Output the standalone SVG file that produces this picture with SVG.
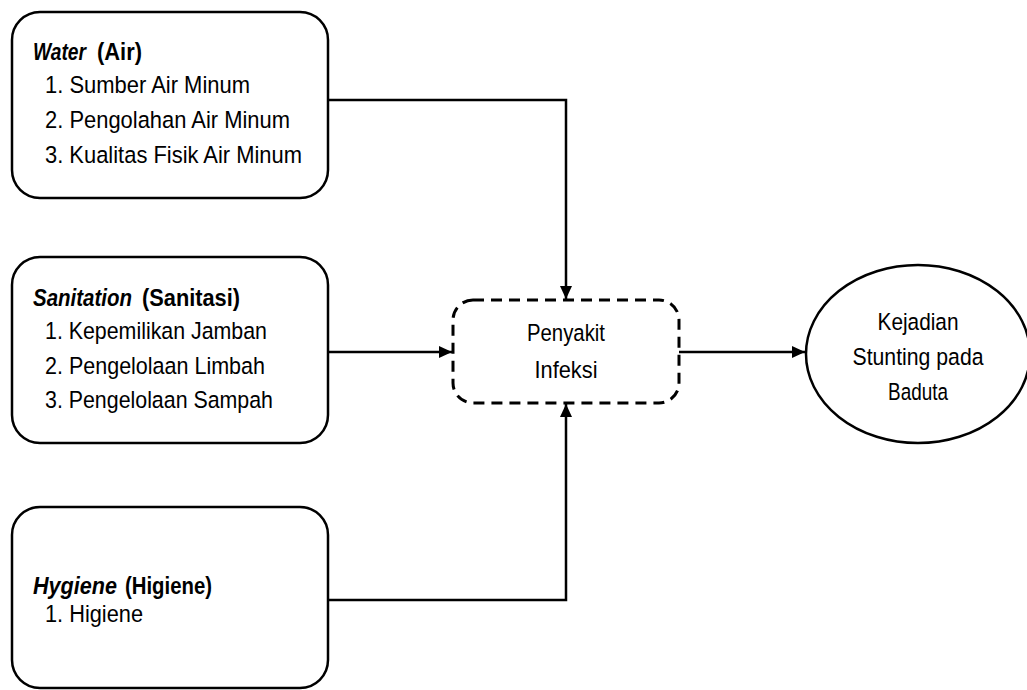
<svg xmlns="http://www.w3.org/2000/svg" width="1027" height="690" viewBox="0 0 1027 690">
<style>
.box{fill:#fff;stroke:#000;stroke-width:2.5}
.dash{fill:#fff;stroke:#000;stroke-width:3;stroke-dasharray:11 7}
.t{font-family:"Liberation Sans",Arial,sans-serif;font-size:24.5px;fill:#000}
.b{font-weight:bold}
.i{font-style:italic}
.c{text-anchor:middle}
.ln{fill:none;stroke:#000;stroke-width:2.5}
</style>
<defs>
<marker id="ah" viewBox="0 0 13 12" refX="13" refY="6" markerWidth="13" markerHeight="12" markerUnits="userSpaceOnUse" orient="auto">
<path d="M0,0 L13,6 L0,12 Z" fill="#000"/>
</marker>
</defs>
<rect width="1027" height="690" fill="#fff"/>
<g id="connectors">
<path class="ln" d="M328,100 H566 V299" marker-end="url(#ah)"/>
<path class="ln" d="M328,352 H452" marker-end="url(#ah)"/>
<path class="ln" d="M328,600 H566 V404" marker-end="url(#ah)"/>
<path class="ln" d="M679,352 H805" marker-end="url(#ah)"/>
</g>
<g id="water">
<rect class="box" x="12" y="12" width="316" height="186" rx="28"/>
<text class="t b i" x="33" y="60" textLength="53" lengthAdjust="spacingAndGlyphs">Water</text>
<text class="t b" x="97" y="60" textLength="45" lengthAdjust="spacingAndGlyphs">(Air)</text>
<text class="t" x="45" y="93" textLength="205" lengthAdjust="spacingAndGlyphs">1. Sumber Air Minum</text>
<text class="t" x="45" y="128" textLength="245" lengthAdjust="spacingAndGlyphs">2. Pengolahan  Air Minum</text>
<text class="t" x="45" y="163" textLength="257" lengthAdjust="spacingAndGlyphs">3. Kualitas  Fisik Air Minum</text>
</g>
<g id="sanitation">
<rect class="box" x="12" y="257" width="316" height="186" rx="28"/>
<text class="t b i" x="33" y="306" textLength="99" lengthAdjust="spacingAndGlyphs">Sanitation</text>
<text class="t b" x="142" y="306" textLength="98" lengthAdjust="spacingAndGlyphs">(Sanitasi)</text>
<text class="t" x="45" y="339" textLength="222" lengthAdjust="spacingAndGlyphs">1. Kepemilikan  Jamban</text>
<text class="t" x="45" y="374" textLength="220" lengthAdjust="spacingAndGlyphs">2. Pengelolaan  Limbah</text>
<text class="t" x="45" y="408" textLength="228" lengthAdjust="spacingAndGlyphs">3. Pengelolaan  Sampah</text>
</g>
<g id="hygiene">
<rect class="box" x="12" y="507" width="316" height="181" rx="28"/>
<text class="t b i" x="33" y="594" textLength="84" lengthAdjust="spacingAndGlyphs">Hygiene</text>
<text class="t b" x="125" y="594" textLength="87" lengthAdjust="spacingAndGlyphs">(Higiene)</text>
<text class="t" x="45" y="622" textLength="98" lengthAdjust="spacingAndGlyphs">1. Higiene</text>
</g>
<g id="penyakit">
<rect class="dash" x="453" y="300" width="226" height="103" rx="20"/>
<text class="t c" x="566" y="341" textLength="78" lengthAdjust="spacingAndGlyphs">Penyakit</text>
<text class="t c" x="566" y="378" textLength="63" lengthAdjust="spacingAndGlyphs">Infeksi</text>
</g>
<g id="stunting">
<ellipse class="box" cx="918" cy="354" rx="112" ry="89"/>
<text class="t c" x="918" y="330" textLength="81" lengthAdjust="spacingAndGlyphs">Kejadian</text>
<text class="t c" x="918" y="365" textLength="131" lengthAdjust="spacingAndGlyphs">Stunting pada</text>
<text class="t c" x="918" y="400" textLength="60" lengthAdjust="spacingAndGlyphs">Baduta</text>
</g>
</svg>
